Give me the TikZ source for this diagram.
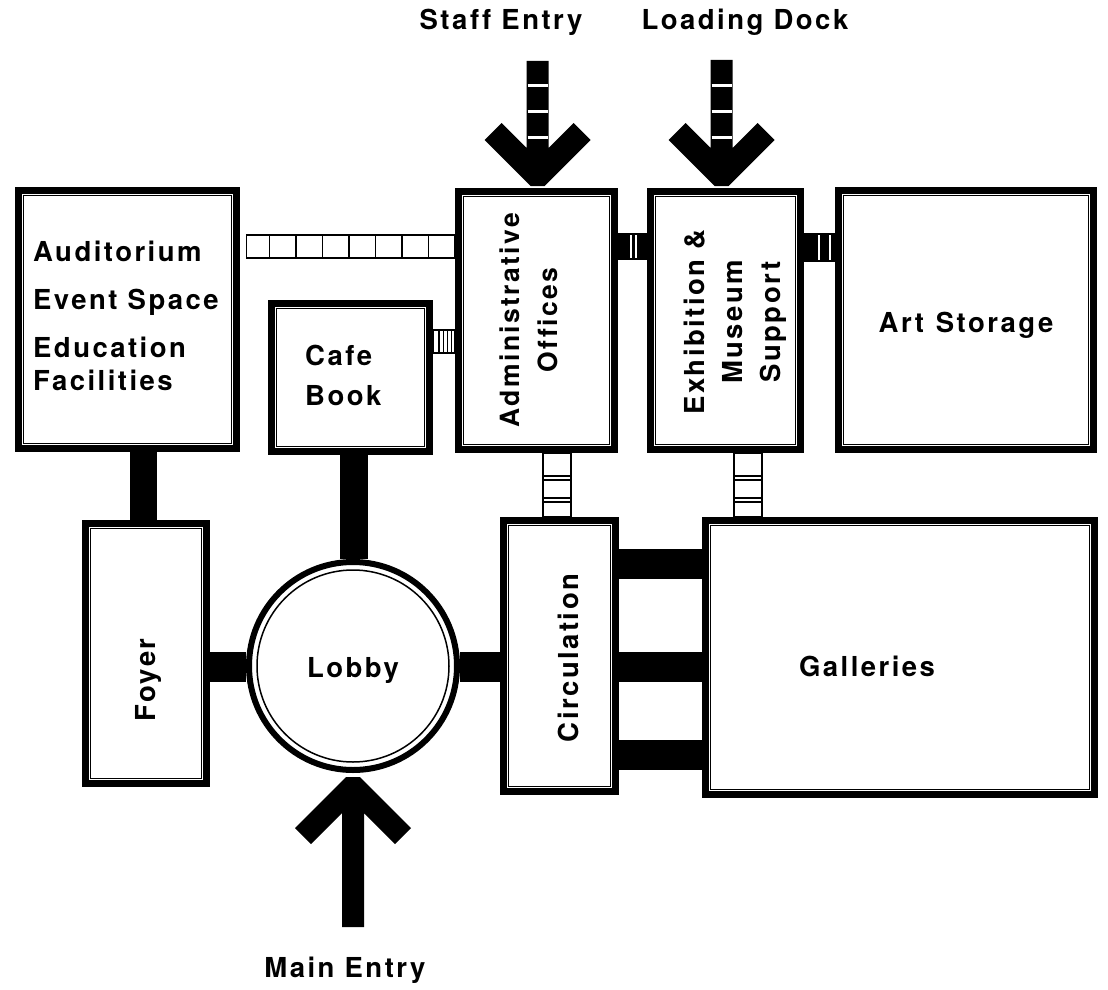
\documentclass[tikz,border=0pt]{standalone}
\usepackage{fontspec}
\usetikzlibrary{calc}
\newfontfamily\labfont{TeX Gyre Heros}[LetterSpace=9,Ligatures=NoCommon]
\tikzset{
  lbl/.style={font=\labfont\bfseries\fontsize{27.5}{33}\selectfont, inner sep=0pt},
  room/.style={draw, line width=7pt, inner sep=0pt},
  innerline/.style={line width=1.5pt},
  ladder/.style={line width=1.8pt},
  stripe/.style={white, line width=1.6pt},
}
\newcommand\roomat[5]{%
  \node[room, minimum width={#4-#2-7}, minimum height={#5-#3-7}] (#1) at ({(#2+#4)/2},{(#3+#5)/2}) {};
  \draw[innerline] ($(#1.north west)+(8.5,8.5)$) rectangle ($(#1.south east)+(-8.5,-8.5)$);
}
\newcommand\downarrowat[2]{%
  \begin{scope}[shift={(#1)}]
  \fill (-7,0) -- (-53,-46) -- (-36,-63) -- (-11,-38) -- (-11,-#2) -- (11,-#2) -- (11,-38) -- (36,-63) -- (53,-46) -- (7,0) -- cycle;
  \foreach \yy in {-101,-75,-49} \draw[white, line width=3pt] (-10,\yy) -- (10,\yy);
  \end{scope}}
\begin{document}
\begin{tikzpicture}[x=1pt,y=-1pt]
\useasboundingbox (0,0) rectangle (1108,990);
% rooms
\roomat{aud}{15}{187}{240}{452}
\roomat{cafe}{268}{300}{433}{455}
\roomat{admin}{455}{188}{618}{453}
\roomat{exh}{647}{188}{804}{453}
\roomat{art}{835}{187}{1097}{453}
\roomat{foyer}{82}{520}{210}{787}
\roomat{circ}{500}{517}{619}{795}
\roomat{gal}{702}{517}{1098}{798}
\node[draw, circle, line width=6pt, minimum size=208pt, inner sep=0pt] (lobby) at (353,666) {};
\draw[innerline] (lobby.center) circle[radius=96pt];

% solid connectors
\coordinate (x1) at (143.5,0);
\coordinate (x2) at (354,0);
\coordinate (y3) at (0,667);
\coordinate (y5) at (0,564);
\coordinate (y7) at (0,755);
\draw[line width=27pt] (aud.south -| x1) -- (foyer.north -| x1);
\draw[line width=28pt] (cafe.south -| x2) -- (lobby.north -| x2);
\draw[line width=30pt] (foyer.east |- y3) -- (lobby.west |- y3);
\draw[line width=30pt] (lobby.east |- y3) -- (circ.west |- y3);
\draw[line width=30pt] (circ.east |- y5) -- (gal.west |- y5);
\draw[line width=30pt] (circ.east |- y3) -- (gal.west |- y3);
\draw[line width=30pt] (circ.east |- y7) -- (gal.west |- y7);

% open ladder auditorium - admin
\coordinate (L1t) at (0,235);
\coordinate (L1b) at (0,258);
\draw[ladder] (aud.east |- L1t) ++(6.5,0) rectangle (admin.west |- L1b);
\foreach \i in {1,...,7} \draw[ladder] ({243+\i*26.5},235) -- ({243+\i*26.5},258);

% small ladder cafe - admin
\coordinate (L2t) at (0,330);
\coordinate (L2b) at (0,353);
\draw[ladder] (cafe.east |- L2t) rectangle (admin.west |- L2b);
\foreach \xx in {439,443.5,447.5,451.5} \draw[line width=1.5pt] (\xx,330) -- (\xx,353);

% black hatched links
\coordinate (L3t) at (0,233);
\coordinate (L3b) at (0,260);
\coordinate (L4b) at (0,262);
\fill (admin.east |- L3t) rectangle (exh.west |- L3b);
\foreach \xx in {631,636} \draw[stripe] (\xx,235) -- (\xx,258);
\fill (exh.east |- L3t) rectangle (art.west |- L4b);
\foreach \xx in {819,830} \draw[stripe] (\xx,235) -- (\xx,260);

% open ladders to circulation / galleries
\coordinate (x5a) at (543,0);
\coordinate (x5b) at (571,0);
\coordinate (x6a) at (734,0);
\coordinate (x6b) at (762,0);
\draw[ladder] (admin.south -| x5a) rectangle (circ.north -| x5b);
\draw[ladder] (exh.south -| x6a) rectangle (gal.north -| x6b);
\foreach \yy in {476,480,498,502} {
  \draw[ladder] (543,\yy) -- (571,\yy);
  \draw[ladder] (734,\yy) -- (762,\yy);
}

% entry arrows
\coordinate (staffTip) at ([shift={(1,-2)}]admin.north);
\coordinate (loadTip) at ([shift={(-4,-2)}]exh.north);
\coordinate (mainTip) at ([shift={(0,4)}]lobby.south);
\downarrowat{staffTip}{125}
\downarrowat{loadTip}{126}
\begin{scope}[shift={(mainTip)}]
\fill (-7,0) -- (-58,51) -- (-42,67) -- (-11,36) -- (-11,150) -- (11,150) -- (11,36) -- (42,67) -- (58,51) -- (7,0) -- cycle;
\end{scope}

% labels
\node[lbl, align=left, anchor=west] (audtxt) at (33,316) {Auditorium\\[15pt]Event Space\\[15pt]Education\\Facilities};
\node[lbl, align=left, anchor=west] (cafetxt) at (305,375) {Cafe\\[7pt]Book};
\node[lbl, align=center, rotate=90, font=\labfont\bfseries\fontsize{26.5}{33}\selectfont] (admintxt) at (529,320) {Administrative\\[5pt]Offices};
\node[lbl, align=center, rotate=90] (exhtxt) at (735,322) {Exhibition \&\\[5pt]Museum\\[5pt]Support};
\node[lbl] (arttxt) at (966,325) {Art\hspace{12pt}Storage};
\node[lbl, rotate=90] (foyertxt) at (148,680) {Foyer};
\node[lbl] (lobbytxt) at (353,670) {Lobby};
\node[lbl, rotate=90] (circtxt) at (568,658) {Circulation};
\node[lbl] (galtxt) at (867,666) {Galleries};
\node[lbl] (stafftxt) at (501,22) {Staff Entry};
\node[lbl] (loadtxt) at (745,22) {Loading Dock};
\node[lbl] (maintxt) at (345,970) {Main Entry};
\end{tikzpicture}
\end{document}
